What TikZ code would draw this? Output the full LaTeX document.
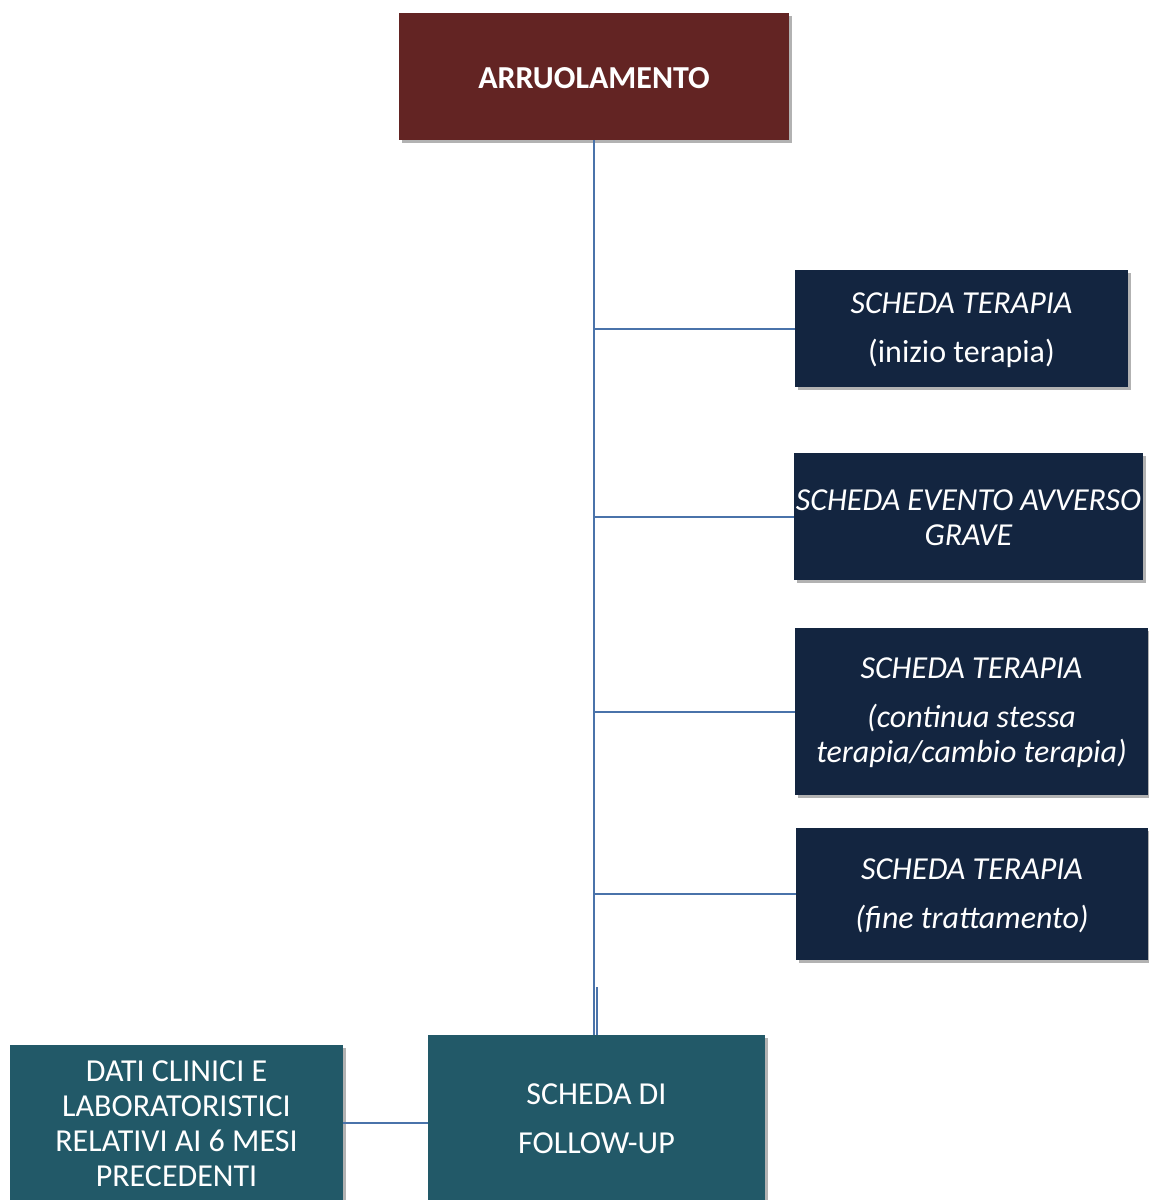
\documentclass[tikz,border=0pt]{standalone}
\usepackage{fontspec}
\setmainfont{Carlito}
\usetikzlibrary{fit,shadows}
\definecolor{brownbox}{RGB}{99,36,35}
\definecolor{navybox}{RGB}{19,37,64}
\definecolor{tealbox}{RGB}{34,89,104}
\definecolor{linkblue}{RGB}{74,115,170}
\begin{document}
\begin{tikzpicture}[x=0.75pt,y=-0.75pt,
  box/.style={inner sep=0pt,
    drop shadow={shadow xshift=2pt,shadow yshift=-2.5pt,opacity=0.3,fill=black}},
  txt/.style={text=white, align=center, inner sep=0pt, yshift=-1pt,
    font=\fontsize{24}{26.25}\selectfont},
  conn/.style={draw=linkblue, line width=1.5pt}]
\fill[white] (0,0) rectangle (1149,1200);
\useasboundingbox (0,0) rectangle (1149,1200);

\node[box, fill=brownbox, fit={(399,13)(789,140)},
  label={[txt, font=\fontsize{24}{28}\selectfont\bfseries]center:ARRUOLAMENTO}] (arr) {};
\node[box, fill=navybox, fit={(795,270)(1128,387)},
  label={[txt]center:\textit{SCHEDA TERAPIA}\\[10.5pt](inizio terapia)}] (s1) {};
\node[box, fill=navybox, fit={(794,453)(1143,580)},
  label={[txt]center:\textit{SCHEDA EVENTO AVVERSO}\\\textit{GRAVE}}] (s2) {};
\node[box, fill=navybox, fit={(795,628)(1148,795)},
  label={[txt]center:\textit{SCHEDA TERAPIA}\\[10.5pt]\textit{(continua stessa}\\\textit{terapia/cambio terapia)}}] (s3) {};
\node[box, fill=navybox, fit={(796,828)(1148,960)},
  label={[txt]center:\textit{SCHEDA TERAPIA}\\[10.5pt]\textit{(fine trattamento)}}] (s4) {};
\node[box, fill=tealbox, fit={(428,1035)(765,1200)},
  label={[txt]center:SCHEDA DI\\[10.5pt]FOLLOW-UP}] (fu) {};
\node[box, fill=tealbox, fit={(10,1045)(343,1200)},
  label={[txt]center:DATI CLINICI E\\LABORATORISTICI\\RELATIVI AI 6 MESI\\PRECEDENTI}] (dati) {};

\coordinate (tx) at (594,0);
\coordinate (jog) at (597,987);
\draw[conn] (arr.south -| tx) -- (fu.north -| tx);
\draw[conn] (jog) -- (fu.north -| jog);
\draw[conn] (tx |- s1.west) -- (s1.west);
\draw[conn] (tx |- s2.west) -- (s2.west);
\draw[conn] (tx |- s3.west) -- (s3.west);
\draw[conn] (tx |- s4.west) -- (s4.west);
\draw[conn] (dati.east) -- (dati.east -| fu.west);
\end{tikzpicture}
\end{document}
